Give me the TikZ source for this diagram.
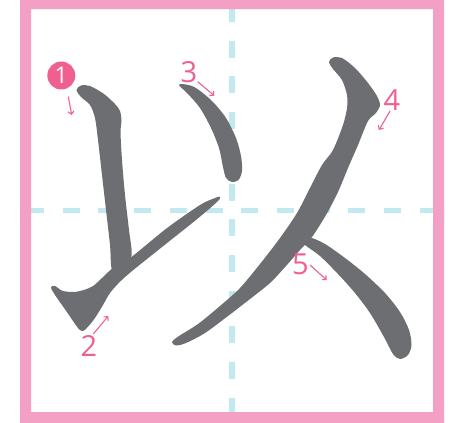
\documentclass[tikz,border=0pt]{standalone}
\usepackage{fontspec}
\setmainfont{Open Sans}
\usetikzlibrary{arrows.meta}
\definecolor{framepink}{HTML}{F4A0C5}
\definecolor{numpink}{HTML}{EF5F8F}
\definecolor{guideblue}{HTML}{C2E8F0}
\definecolor{inkgray}{HTML}{6D6E71}
\begin{document}
\begin{tikzpicture}[x=1pt,y=-1pt,
  inkstroke/.style={fill=inkgray, draw=none},
  guide/.style={guideblue, line width=5.5pt, dash pattern=on 17pt off 18.7pt, dash phase=4pt},
  num/.style={text=numpink, font=\fontsize{29}{29}\selectfont, inner sep=0pt},
  hint/.style={numpink, line width=1.1pt, -{Straight Barb[length=3pt,width=6pt]}}]
\useasboundingbox (0,0) rectangle (450,423);
% guides
\draw[guide] (232,9) -- (232,412);
\draw[guide] (31,210.5) -- (433,210.5);
% frame
\fill[framepink, even odd rule] (20,0) rectangle (444,423) (31,9) rectangle (433,412);
% stroke 1
\fill[inkstroke] plot[smooth cycle, tension=0.5] coordinates {
 (76.5,90) (81,85.5) (90,86) (104,94) (115,104) (120,111) (121.5,121) (120.5,132)
 (122,160) (125,195) (129,230) (131.5,256) (121,265) (112,270)
 (110,245) (106,210) (102,175) (98,140) (95,118) (90,105) (81,97)};
% stroke 2
\fill[inkstroke] plot[smooth cycle, tension=0.5] coordinates {
 (51,287.5) (55,286) (63,291) (76.7,291.7) (93,286) (111.7,269) (131.7,256.7) (166.7,228.3)
 (200,205) (215,198) (219.5,196.7) (218.5,200.5) (200,216.7) (166.7,243.3) (133.3,270)
 (120,281.7) (110,293) (103,305) (95,318) (88,326.7) (83,331)
 (78,328) (66.7,311.7) (55,295)};
% stroke 3
\fill[inkstroke] plot[smooth cycle, tension=0.5] coordinates {
 (179,85) (186,84.5) (196,88) (212,101) (226,118) (236,138) (241,156) (242,171)
 (238.5,180) (232,182) (226,178) (223,167) (219,148) (211,128) (200,108) (188,94)};
% stroke 4
\fill[inkstroke] plot[smooth cycle, tension=0.5] coordinates {
 (329,62) (333,57.5) (342,58) (355,68) (368,83) (377,96) (380,105) (376,113)
 (368,121) (358,145) (348,168) (338,192) (326,215) (312,237) (300,250) (286,266)
 (270,283) (250,299) (228,316) (205,333) (186,343) (176,345.5) (172,342) (179,336)
 (198,324) (220,306) (240,288) (260,264) (280,238) (297,213) (310,188) (322,165)
 (333,150) (343,125) (347,108) (347,95) (342,80) (333,69)};
% stroke 5
\fill[inkstroke] plot[smooth cycle, tension=0.5] coordinates {
 (302,240) (310,237.5) (325,244) (345,258) (365,274) (385,293) (400,312) (409,330)
 (411.5,345) (408,355) (400,359) (393,354) (384,337) (370,313) (355,293) (338,274)
 (320,256) (305,245)};
% labels
\node[circle, fill=numpink, minimum size=28pt, inner sep=0pt, text=white,
      font=\fontsize{23}{23}\selectfont] (n1) at (61.3,75.5) {1};
\node[num] (n2) at (89,346) {2};
\node[num] (n3) at (189,72) {3};
\node[num] (n4) at (392,100.5) {4};
\node[num] (n5) at (300.5,264.5) {5};
% hint arrows
\coordinate (a1s) at (68.3,96.5); \coordinate (a1e) at (71.7,115);
\coordinate (a2s) at (93.3,334);  \coordinate (a2e) at (108.3,316);
\coordinate (a3s) at (197.7,81.7); \coordinate (a3e) at (214.3,95.7);
\coordinate (a4s) at (390,111);   \coordinate (a4e) at (379,130);
\coordinate (a5s) at (310,265);   \coordinate (a5e) at (326.7,280);
\draw[hint] (a1s) -- (a1e);
\draw[hint] (a2s) -- (a2e);
\draw[hint] (a3s) -- (a3e);
\draw[hint] (a4s) -- (a4e);
\draw[hint] (a5s) -- (a5e);
\end{tikzpicture}
\end{document}
